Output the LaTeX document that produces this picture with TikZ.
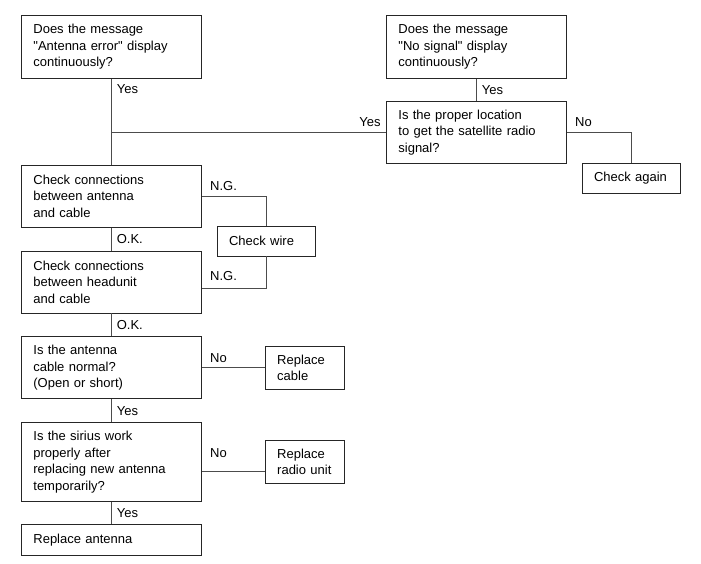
\documentclass[tikz,border=0pt]{standalone}
\usepackage{fontspec}
\setmainfont{Liberation Sans}
\usetikzlibrary{positioning}

\begin{document}
\begin{tikzpicture}[
    x=1pt, y=-1pt,
    font=\fontsize{13}{16.5}\selectfont,
    node distance=23pt and 63pt,
    box/.style={draw=black!85, line width=0.8pt, align=left, text width=156pt, inner xsep=12pt, inner ysep=0pt, minimum height=62pt},
    small/.style={draw=black!85, line width=0.8pt, align=left, text width=#1, inner xsep=12pt, inner ysep=0pt},
    lbl/.style={inner sep=5pt},
    side/.style={lbl, pos=0, anchor=south west, xshift=3pt},
    line/.style={draw=black!70, line width=0.8pt}
]
\useasboundingbox (0,0) rectangle (701,564);

% left column
\node[box, minimum height=63pt, anchor=north west] (antenna) at (21,15) {Does the message\\\textquotedbl Antenna error\textquotedbl\ display\\continuously?};
\node[box, below=86pt of antenna] (conn1) {Check connections\\between antenna\\and cable};
\node[box, below=of conn1] (conn2) {Check connections\\between headunit\\and cable};
\node[box, below=of conn2] (cable) {Is the antenna\\cable normal?\\(Open or short)};
\node[box, below=of cable, minimum height=79pt] (sirius) {Is the sirius work\\properly after\\replacing new antenna\\temporarily?};
\node[box, below=22pt of sirius, minimum height=31pt] (replant) {Replace antenna};

% right column
\node[box, minimum height=63pt, anchor=north west] (nosignal) at (386,15) {Does the message\\\textquotedbl No signal\textquotedbl\ display\\continuously?};
\node[box, below=22pt of nosignal] (location) {Is the proper location\\to get the satellite radio\\signal?};

% side boxes
\node[small=74pt, minimum height=30pt] (again) at (631,178) {Check again};
\node[small=74pt, minimum height=30pt] (wire) at (266,241) {Check wire};
\node[small=55pt, minimum height=43pt, right=of cable] (repcable) {Replace\\cable};
\node[small=55pt, minimum height=43pt, right=of sirius] (radio) {Replace\\radio unit};

% connectors
\coordinate (join) at (antenna.south |- location.west);
\draw[line] (antenna) -- node[lbl, pos=0.2, right] {Yes} (join) -- (conn1);
\draw[line] (location) -- node[lbl, pos=0, anchor=south east] {Yes} (join);
\draw[line] (nosignal) -- node[lbl, midway, right] {Yes} (location);
\draw[line] (location) -| node[side] {No} (again);
\draw[line] (conn1) -| node[side] {N.G.} (wire);
\draw[line] ([yshift=-6pt]conn2.east) -| node[side, yshift=2pt] {N.G.} (wire.south);
\draw[line] (conn1) -- node[lbl, midway, right] {O.K.} (conn2);
\draw[line] (conn2) -- node[lbl, midway, right] {O.K.} (cable);
\draw[line] (cable) -- node[side] {No} (repcable);
\draw[line] (cable) -- node[lbl, midway, right] {Yes} (sirius);
\draw[line] ([yshift=-9.5pt]sirius.east) -- node[lbl, pos=0, anchor=west, xshift=3pt, yshift=19pt] {No} ([yshift=-9.5pt]sirius.east -| radio.west);
\draw[line] (sirius) -- node[lbl, midway, right] {Yes} (replant);
\end{tikzpicture}
\end{document}
